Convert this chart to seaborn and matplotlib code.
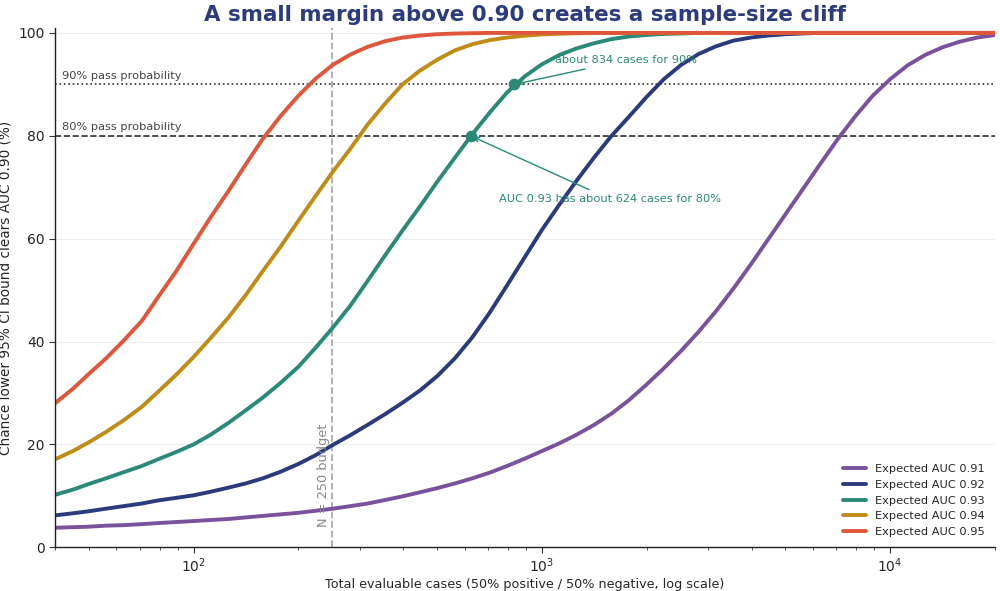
import pandas as pd
import matplotlib
matplotlib.use("Agg")
import matplotlib.pyplot as plt
import seaborn as sns

# total evaluable cases (x axis), roughly even steps on the log scale
n_cases = [40, 45, 50, 56, 63, 71, 79, 89, 100, 112, 126, 141, 158, 178, 200, 224,
           251, 282, 316, 355, 398, 447, 501, 562, 631, 708, 794, 891, 1000, 1122,
           1259, 1413, 1585, 1778, 1995, 2239, 2512, 2818, 3162, 3548, 3981, 4467,
           5012, 5623, 6310, 7079, 7943, 8913, 10000, 11220, 12589, 14125, 15849,
           17783, 20000]

# chance (%) that the lower 95% CI bound clears 0.90
auc_091 = [3.8, 3.9, 4.0, 4.2, 4.3, 4.5, 4.7, 4.9, 5.1, 5.3, 5.5, 5.8, 6.1, 6.4, 6.7, 7.1,
           7.5, 8.0, 8.5, 9.2, 9.9, 10.7, 11.5, 12.4, 13.4, 14.5, 15.8, 17.2, 18.7, 20.2,
           21.9, 23.8, 26.0, 28.6, 31.6, 34.8, 38.2, 41.9, 45.9, 50.3, 55.0, 59.9,
           64.8, 69.7, 74.6, 79.4, 83.8, 87.8, 91.0, 93.7, 95.7, 97.2, 98.3,
           99.1, 99.6]
auc_092 = [6.2, 6.6, 7.0, 7.5, 8.0, 8.5, 9.1, 9.6, 10.1, 10.8, 11.6, 12.4, 13.4, 14.7, 16.2, 17.9,
           19.9, 21.8, 23.8, 25.9, 28.1, 30.5, 33.3, 36.7, 40.8, 45.6, 50.9, 56.3, 61.7, 66.6,
           71.3, 75.8, 80.0, 83.7, 87.5, 91.0, 93.8, 95.9, 97.4, 98.5, 99.1, 99.5,
           99.75, 99.9, 100, 100, 100, 100, 100, 100, 100, 100, 100,
           100, 100]
auc_093 = [10.2, 11.2, 12.3, 13.4, 14.6, 15.8, 17.1, 18.5, 20.0, 21.9, 24.2, 26.6, 29.1, 32.0, 35.1, 38.8,
           42.7, 47.0, 51.8, 56.8, 61.6, 66.3, 71.1, 75.7, 80.3, 84.5, 88.4, 91.5, 93.9, 95.7,
           97.0, 98.0, 98.8, 99.3, 99.6, 99.8, 99.9, 100, 100, 100, 100, 100,
           100, 100, 100, 100, 100, 100, 100, 100, 100, 100, 100,
           100, 100]
auc_094 = [17.1, 18.7, 20.4, 22.4, 24.7, 27.3, 30.2, 33.5, 37.0, 40.7, 44.7, 49.0, 53.7, 58.5, 63.5, 68.3,
           73.0, 77.5, 82.2, 86.3, 90.0, 92.7, 94.8, 96.6, 97.8, 98.6, 99.1, 99.45, 99.7, 99.85,
           99.93, 100, 100, 100, 100, 100, 100, 100, 100, 100, 100, 100,
           100, 100, 100, 100, 100, 100, 100, 100, 100, 100, 100,
           100, 100]
auc_095 = [28.0, 30.8, 33.7, 36.7, 40.2, 44.0, 48.6, 53.6, 59.0, 64.2, 69.3, 74.4, 79.4, 83.9, 87.8, 91.1,
           93.8, 95.8, 97.3, 98.4, 99.1, 99.5, 99.75, 99.88, 99.95, 100, 100, 100, 100, 100,
           100, 100, 100, 100, 100, 100, 100, 100, 100, 100, 100, 100,
           100, 100, 100, 100, 100, 100, 100, 100, 100, 100, 100,
           100, 100]

series_labels = ["Expected AUC 0.91", "Expected AUC 0.92", "Expected AUC 0.93",
                 "Expected AUC 0.94", "Expected AUC 0.95"]
series_colors = ["#78539b", "#2b3a7b", "#2a8a77", "#c18c16", "#e0563a"]

# highlighted points on the AUC 0.93 curve
marker_n = [624, 834]
marker_pct = [80, 90]

budget_n = 250

rows = []
for label, vals in zip(series_labels, [auc_091, auc_092, auc_093, auc_094, auc_095]):
    for n, v in zip(n_cases, vals):
        rows.append({"n": n, "pct": v, "series": label})
df = pd.DataFrame(rows)

sns.set_style("white")
plt.rcParams["font.family"] = ["DejaVu Sans"]

fig, ax = plt.subplots(figsize=(10, 5.91), dpi=100)
fig.subplots_adjust(left=0.055, right=0.995, top=0.953, bottom=0.074)

ax.grid(axis="y", color="#eeeeee", linewidth=0.8)
ax.set_axisbelow(True)

sns.lineplot(data=df, x="n", y="pct", hue="series", hue_order=series_labels,
             palette=dict(zip(series_labels, series_colors)), linewidth=2.8, ax=ax)
ax.set_xscale("log")

ax.axhline(90, color="#333333", linestyle=":", linewidth=1.2, zorder=1)
ax.axhline(80, color="#333333", linestyle="--", linewidth=1.2, zorder=1)
ax.axvline(budget_n, color="#aaaaaa", linestyle="--", linewidth=1.3, zorder=1)

ax.text(42, 90.7, "90% pass probability", fontsize=8.2, color="#444444", va="bottom")
ax.text(42, 80.7, "80% pass probability", fontsize=8.2, color="#444444", va="bottom")
ax.text(247, 4, "N = 250 budget", rotation=90, fontsize=9.3, color="#888888",
        ha="right", va="bottom")

green = series_colors[2]
ax.scatter(marker_n, marker_pct, s=55, color=green, zorder=5)
ax.annotate("about 834 cases for 90%", xy=(marker_n[1], marker_pct[1]),
            xytext=(1742, 94.7), ha="center", va="center", fontsize=8.2, color=green,
            arrowprops=dict(arrowstyle="->", color=green, lw=1.0))
ax.annotate("AUC 0.93 has about 624 cases for 80%", xy=(marker_n[0], marker_pct[0]),
            xytext=(1567, 67.7), ha="center", va="center", fontsize=8.2, color=green,
            arrowprops=dict(arrowstyle="->", color=green, lw=1.0))

ax.set_xlim(40, 20000)
ax.set_ylim(0, 101)
ax.set_yticks([0, 20, 40, 60, 80, 100])
ax.tick_params(axis="both", which="major", length=4, width=0.8, labelsize=10, color="#333333")
ax.tick_params(axis="x", which="both", pad=2.5)
ax.tick_params(axis="x", which="minor", length=2.5, width=0.6, color="#333333")
ax.tick_params(axis="both", which="both", bottom=True, left=True)

for side in ["top", "right"]:
    ax.spines[side].set_visible(False)
for side in ["left", "bottom"]:
    ax.spines[side].set_color("#222222")
    ax.spines[side].set_linewidth(1.0)

ax.set_xlabel("Total evaluable cases (50% positive / 50% negative, log scale)",
              fontsize=9.2, labelpad=2)
ax.set_ylabel("Chance lower 95% CI bound clears AUC 0.90 (%)", fontsize=9.8, labelpad=4)
ax.set_title("A small margin above 0.90 creates a sample-size cliff", fontsize=15.4,
             fontweight="bold", color="#2c3b7c", pad=5)

ax.legend(loc="lower right", frameon=False, fontsize=8.2, handlelength=2.0)

fig.savefig("out.png", dpi=100)
